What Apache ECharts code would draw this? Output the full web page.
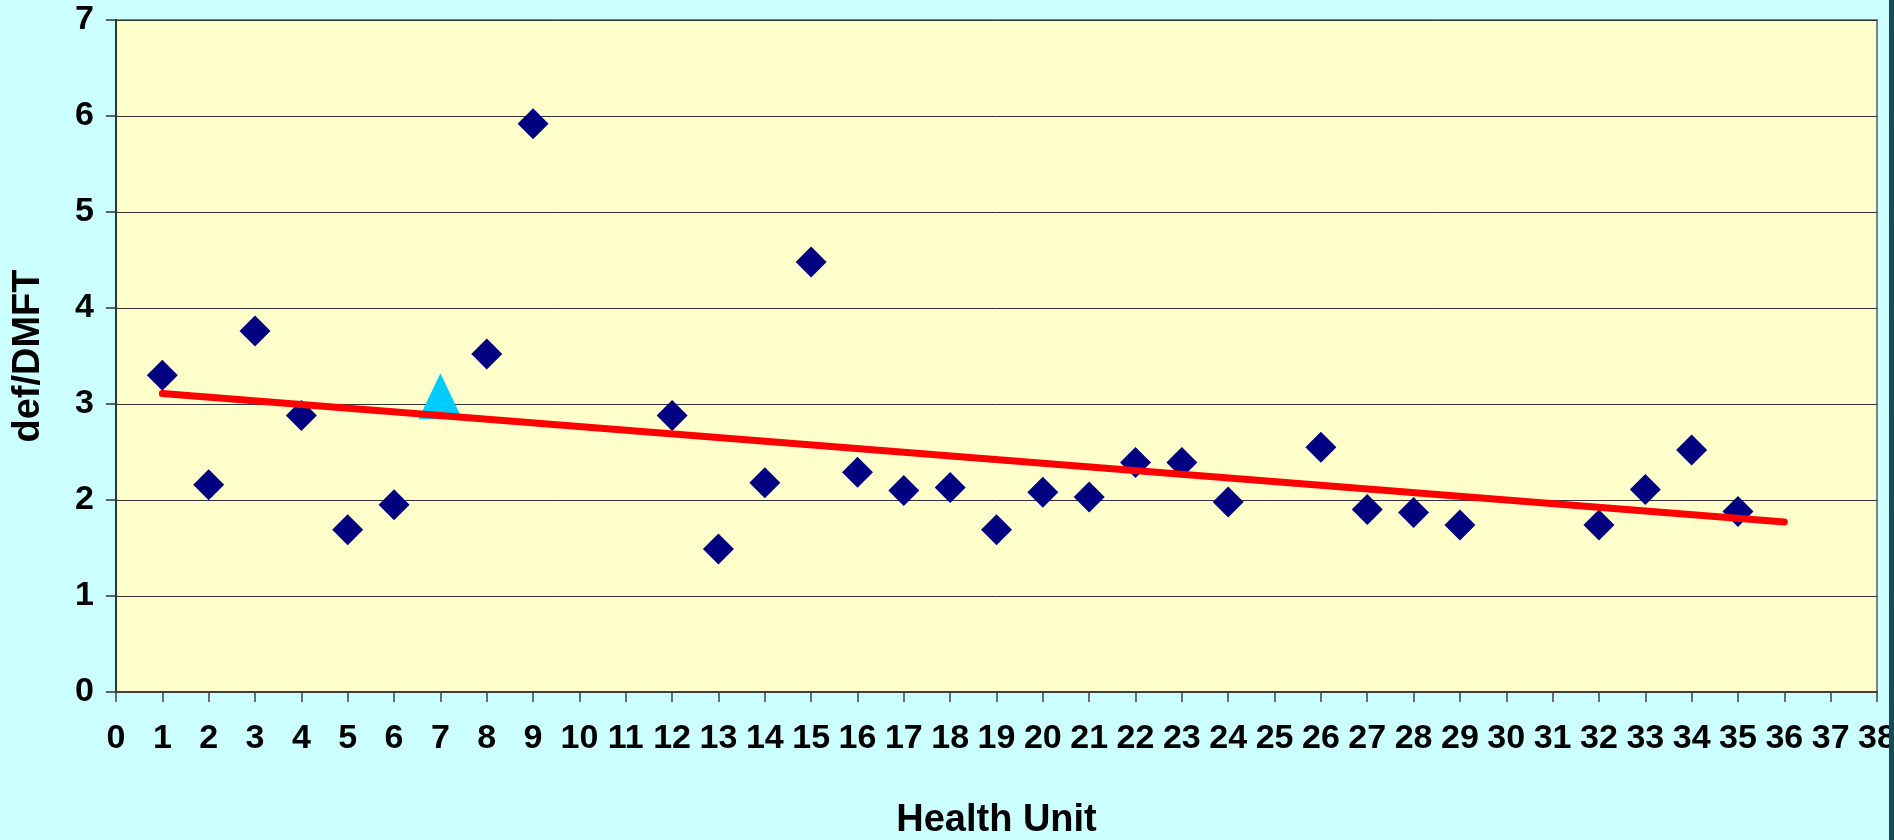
<!DOCTYPE html>
<html>
<head>
<meta charset="utf-8">
<title>def/DMFT by Health Unit</title>
<script src="https://cdn.jsdelivr.net/npm/echarts@6/dist/echarts.min.js"></script>
<style>
    html, body { margin: 0; padding: 0; background: #ccffff; }
    #chart { width: 1894px; height: 840px; }
</style>
</head>
<body>
<!-- def/DMFT per health unit, scatter with trend line -->
<div id="chart"></div>
<script>
    // health units with a diamond marker
    var unitX = [1, 2, 3, 4, 5, 6, 8, 9, 12, 13, 14, 15, 16, 17, 18, 19, 20, 21,
                 22, 23, 24, 26, 27, 28, 29, 32, 33, 34, 35];
    var dmft  = [3.30, 2.16, 3.76, 2.88, 1.69, 1.95, 3.52, 5.92, 2.88, 1.49, 2.18, 4.48, 2.29, 2.10, 2.13, 1.69, 2.08, 2.03,
                 2.39, 2.39, 1.98, 2.55, 1.90, 1.87, 1.74, 1.74, 2.11, 2.52, 1.88];
    // the highlighted unit (triangle)
    var markX = [7];
    var markY = [3.08];
    // linear trend end points
    var trendX = [1, 36];
    var trendY = [3.11, 1.77];
    // axis ticks
    var xTicks = [0, 38];
    var yTicks = [0, 7];

    function pairs(xs, ys) {
        var out = [];
        for (var i = 0; i < xs.length; i++) {
            out.push([xs[i], ys[i]]);
        }
        return out;
    }

    var myChart = echarts.init(document.getElementById('chart'));
    var font = 'Liberation Sans, Arial, sans-serif';

    myChart.setOption({
        backgroundColor: '#ccffff',
        animation: false,
        grid: {
            left: 116,
            top: 20,
            right: 17,
            bottom: 148,
            containLabel: false,
            outerBoundsMode: 'none',
            show: true,
            backgroundColor: '#ffffcc',
            borderColor: '#808080',
            borderWidth: 2
        },
        xAxis: {
            type: 'value',
            min: xTicks[0],
            max: xTicks[1],
            interval: 1,
            name: 'Health Unit',
            nameLocation: 'middle',
            nameGap: 110,
            nameTextStyle: { color: '#000', fontSize: 38, fontWeight: 'bold', fontFamily: font },
            axisLine: { show: true, onZero: false, lineStyle: { color: '#404040', width: 2 } },
            axisTick: { show: true, length: 10, lineStyle: { color: '#404040', width: 1.5 } },
            axisLabel: { color: '#000', fontSize: 34, fontWeight: 'bold', fontFamily: font, margin: 30 },
            splitLine: { show: false }
        },
        yAxis: {
            type: 'value',
            min: yTicks[0],
            max: yTicks[1],
            interval: 1,
            name: 'def/DMFT',
            nameLocation: 'middle',
            nameGap: 68,
            nameRotate: 90,
            nameTextStyle: { color: '#000', fontSize: 38, fontWeight: 'bold', fontFamily: font },
            axisLine: { show: true, lineStyle: { color: '#333', width: 2 } },
            axisTick: { show: true, length: 10, lineStyle: { color: '#333', width: 1.5 } },
            axisLabel: { color: '#000', fontSize: 34, fontWeight: 'bold', fontFamily: font, margin: 22 },
            splitLine: { show: true, lineStyle: { color: '#333', width: 1 } }
        },
        graphic: [
            {
                type: 'rect',
                right: 0,
                top: 0,
                z: 100,
                shape: { width: 5, height: 840 },
                style: { fill: '#164a55' }
            }
        ],
        series: [
            {
                name: 'def/DMFT',
                type: 'scatter',
                data: pairs(unitX, dmft),
                symbol: 'diamond',
                symbolSize: 31,
                itemStyle: { color: '#000080', opacity: 1 },
                z: 2
            },
            {
                name: 'Unit 7',
                type: 'scatter',
                data: pairs(markX, markY),
                symbol: 'triangle',
                symbolSize: [44, 46],
                itemStyle: { color: '#00ccff', opacity: 1 },
                z: 3
            },
            {
                name: 'Trend',
                type: 'line',
                data: pairs(trendX, trendY),
                symbol: 'none',
                lineStyle: { color: '#ff0000', width: 7, cap: 'round' },
                z: 4
            }
        ]
    });
</script>
</body>
</html>
